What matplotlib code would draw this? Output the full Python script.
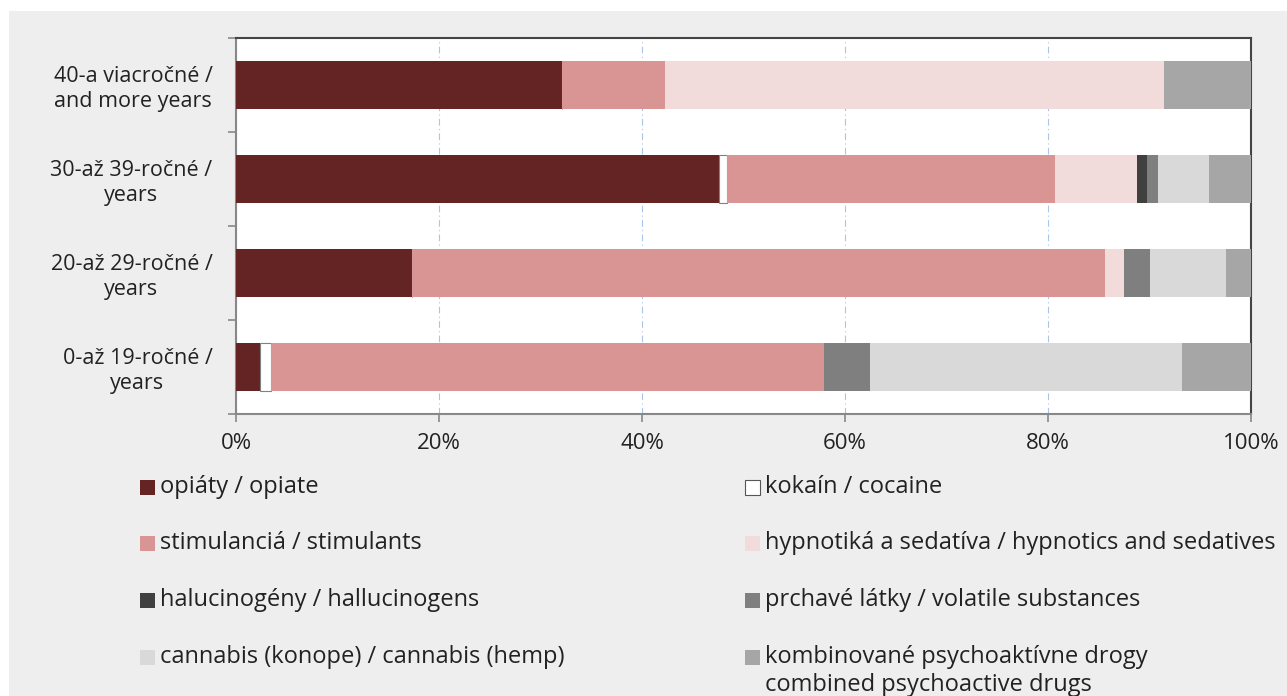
import matplotlib
matplotlib.use("Agg")
import matplotlib.pyplot as plt
from matplotlib.patches import Rectangle
import numpy as np

plt.rcParams['font.family'] = ['Open Sans', 'DejaVu Sans']

categories = ["0-až 19-ročné /\nyears", "20-až 29-ročné /\nyears",
              "30-až 39-ročné /\nyears", "40-a viacročné /\nand more years"]

opiate      = [2.4, 17.3, 47.6, 32.1]
cocaine     = [1.0, 0.0, 0.8, 0.0]
stimulants  = [54.5, 68.3, 32.3, 10.2]
hypnotics   = [0.0, 1.9, 8.1, 49.1]
halluc      = [0.0, 0.0, 1.0, 0.0]
volatile    = [4.6, 2.5, 1.0, 0.0]
cannabis    = [30.7, 7.5, 5.1, 0.0]
combined    = [6.8, 2.5, 4.1, 8.6]

series = [opiate, cocaine, stimulants, hypnotics, halluc, volatile, cannabis, combined]
labels = ["opiáty / opiate", "kokaín / cocaine", "stimulanciá / stimulants",
          "hypnotiká a sedatíva / hypnotics and sedatives",
          "halucinogény / hallucinogens", "prchavé látky / volatile substances",
          "cannabis (konope) / cannabis (hemp)",
          "kombinované psychoaktívne drogy\ncombined psychoactive drugs"]
colors = ["#632423", "#FFFFFF", "#D99594", "#F2DBDB", "#404040", "#7F7F7F", "#D9D9D9", "#A6A6A6"]

x_ticks = [0, 20, 40, 60, 80, 100]
x_ticklabels = ["0%", "20%", "40%", "60%", "80%", "100%"]

W, H = 1287, 696
fig = plt.figure(figsize=(W / 100, H / 100), dpi=100, facecolor="white")
fig.patches.append(Rectangle((9 / W, 0), 1 - 9 / W, 1 - 11 / H, transform=fig.transFigure,
                             facecolor="#EEEEEE", edgecolor="none", zorder=-10))

ax = fig.add_axes([236 / W, 1 - 414 / H, (1251 - 236) / W, (414 - 38) / H])
ax.set_facecolor("white")

y = np.arange(len(categories))
left = np.zeros(len(categories))
for vals, lab, col in zip(series, labels, colors):
    vals = np.array(vals)
    if col == "#FFFFFF":
        ax.barh(y, vals, left=left, height=0.52, color=col, edgecolor="#808080",
                linewidth=0.8, zorder=3)
    else:
        ax.barh(y, vals, left=left, height=0.52, color=col, edgecolor="none", zorder=3)
    left += vals

ax.set_xlim(0, 100)
ax.set_ylim(-0.5, 3.5)
ax.set_xticks(x_ticks)
ax.set_xticklabels(x_ticklabels, fontsize=16, color="#222222")
ax.xaxis.grid(True, color="#A9C6E8", linestyle=(0, (6, 3, 1, 3)), linewidth=0.8, zorder=0)
ax.set_axisbelow(True)

ax.set_yticks(np.arange(-0.5, 4.0, 1.0))
ax.set_yticklabels([])
ax.set_yticks(y, minor=True)
ax.set_yticklabels(categories, minor=True, fontsize=15.5, color="#222222")
for t in ax.get_yticklabels(minor=True):
    t.set_ha("right")
    t.set_multialignment("center")
ax.tick_params(axis="y", which="minor", length=0, pad=17)
ax.tick_params(axis="y", which="major", length=6, color="#888888", width=1.2)
ax.tick_params(axis="x", length=6, color="#888888", width=1.2, pad=8)

for s in ["left", "bottom"]:
    ax.spines[s].set_color("#888888")
    ax.spines[s].set_linewidth(1.5)
for s in ["top", "right"]:
    ax.spines[s].set_color("#444444")
    ax.spines[s].set_linewidth(1.5)

# manual legend (row-wise, two columns)
col_x = [140, 745]
row_y = [487, 543, 600, 657]
for i, (lab, col) in enumerate(zip(labels, colors)):
    cx = col_x[i % 2]
    ry = row_y[i // 2]
    fig.patches.append(Rectangle((cx / W, 1 - (ry + 7.5) / H), 15 / W, 15 / H,
                                 transform=fig.transFigure, facecolor=col,
                                 edgecolor="#555555" if col == "#FFFFFF" else "none",
                                 linewidth=0.8, zorder=5))
    fig.text((cx + 20) / W, 1 - ry / H, lab.split("\n")[0], fontsize=17, color="#222222",
             va="center", ha="left")
    if "\n" in lab:
        fig.text((cx + 20) / W, 1 - (ry + 28) / H, lab.split("\n")[1], fontsize=17,
                 color="#222222", va="center", ha="left")

fig.savefig("out.png", dpi=100, facecolor=fig.get_facecolor())
